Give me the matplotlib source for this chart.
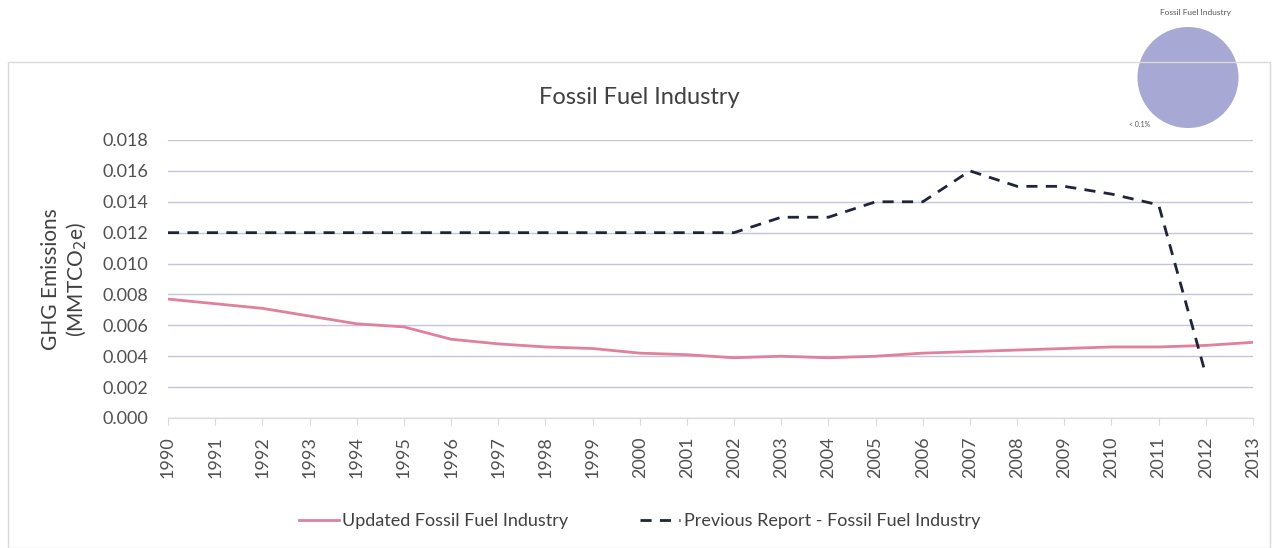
import numpy as np
import matplotlib.pyplot as plt
from matplotlib.patches import Rectangle

plt.rcParams['font.family'] = ['Lato', 'DejaVu Sans']

years = list(range(1990, 2014))
updated = [0.0077, 0.0074, 0.0071, 0.0066, 0.0061, 0.0059, 0.0051, 0.0048,
           0.0046, 0.0045, 0.0042, 0.0041, 0.0039, 0.0040, 0.0039, 0.0040,
           0.0042, 0.0043, 0.0044, 0.0045, 0.0046, 0.0046, 0.0047, 0.0049]
prev_years = list(range(1990, 2013))
previous = [0.012, 0.012, 0.012, 0.012, 0.012, 0.012, 0.012, 0.012,
            0.012, 0.012, 0.012, 0.012, 0.012, 0.013, 0.013, 0.014,
            0.014, 0.016, 0.015, 0.015, 0.0145, 0.0138, 0.0028]
yticks = [0.000, 0.002, 0.004, 0.006, 0.008, 0.010, 0.012, 0.014, 0.016, 0.018]
pie_share = [1.0]

fig = plt.figure(figsize=(12.79, 5.48), dpi=100)

# outer chart border
fig.patches.append(Rectangle((8 / 1279, 0.0), 1262 / 1279, 1 - 62 / 548,
                             transform=fig.transFigure, fill=False,
                             edgecolor='#d9d9d9', lw=1))

ax = fig.add_axes([168 / 1279, 1 - 418 / 548, (1253 - 168) / 1279, (418 - 140) / 548])
x = np.arange(len(years))
ax.plot(x, updated, color='#e0809c', lw=2, label='Updated Fossil Fuel Industry')
ax.plot(np.arange(len(prev_years)), previous, color='#1f2438', lw=2,
        dashes=(4, 3), label='Previous Report - Fossil Fuel Industry')

ax.set_ylim(0, 0.018)
ax.set_xlim(0, len(years) - 1)
ax.set_yticks(yticks)
ax.set_yticklabels(['%.3f' % v for v in yticks], fontsize=13, color='#505050')
ax.set_xticks(x)
ax.set_xticklabels([str(y) for y in years], rotation=90, fontsize=13, color='#505050')
ax.grid(axis='y', color='#c5c5da', lw=1)
ax.set_axisbelow(True)
for s in ['top', 'right', 'left']:
    ax.spines[s].set_visible(False)
ax.spines['bottom'].set_color('#d9d9d9')
ax.tick_params(axis='y', length=0, pad=14)
ax.tick_params(axis='x', length=5, color='#d9d9d9', pad=8)

ax.set_ylabel('GHG Emissions\n(MMTCO$_2$e)', fontsize=15, color='#404040', labelpad=10)
fig.text(0.5, 1 - 98 / 548, 'Fossil Fuel Industry', ha='center', va='center',
         fontsize=17, color='#404040')

fig.legend(loc='center', bbox_to_anchor=(0.5, 1 - 521 / 548), ncol=2, frameon=False,
           fontsize=13, handlelength=2.2, handletextpad=0.2, columnspacing=4,
           labelcolor='#404040')

# small pie inset
pax = fig.add_axes([1137 / 1279, 1 - 128 / 548, 102 / 1279, 101 / 548])
pax.pie(pie_share, colors=['#a8a8d4'], startangle=90)
pax.set_xlim(-1, 1)
pax.set_ylim(-1, 1)
pax.set_aspect('equal')
fig.text(1195 / 1279, 1 - 12 / 548, 'Fossil Fuel Industry', ha='center', va='center',
         fontsize=6, color='#555555')
fig.text(1140 / 1279, 1 - 124 / 548, '< 0.1%', ha='center', va='center',
         fontsize=5, color='#555555')

fig.savefig('out.png', dpi=100)
